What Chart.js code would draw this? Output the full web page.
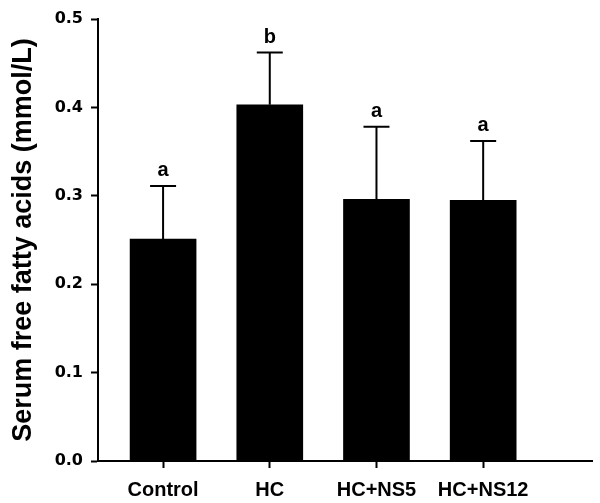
<!DOCTYPE html>
<html>
<head>
<meta charset="utf-8">
<script src="https://cdn.jsdelivr.net/npm/chart.js@4/dist/chart.umd.min.js"></script>
<style>
  html, body { margin: 0; padding: 0; background: #fff; }
  #wrap { width: 600px; height: 503px; position: relative; }
</style>
</head>
<body>
<div id="wrap"><canvas id="c" width="600" height="503"></canvas></div>
<script>
const categories = ['Control', 'HC', 'HC+NS5', 'HC+NS12'];
const means = [0.251, 0.403, 0.296, 0.295];
const errors = [0.060, 0.059, 0.082, 0.067];
const letters = ['a', 'b', 'a', 'a'];
const yTicks = [0.0, 0.1, 0.2, 0.3, 0.4, 0.5];

const FONT = "'Liberation Sans', Arial, Helvetica, sans-serif";
const TICKFONT = "'DejaVu Sans', 'Liberation Sans', Arial, sans-serif";

const errorBarPlugin = {
  id: 'errorBars',
  afterDatasetsDraw(chart) {
    const ctx = chart.ctx;
    const xs = chart.scales.x, ys = chart.scales.y;
    ctx.save();
    ctx.strokeStyle = '#000';
    ctx.lineWidth = 2;
    ctx.fillStyle = '#000';
    ctx.font = "bold 20px " + FONT;
    ctx.textAlign = 'center';
    ctx.textBaseline = 'alphabetic';
    categories.forEach((c, i) => {
      const x = xs.getPixelForValue(i + 1);
      const yb = ys.getPixelForValue(means[i]);
      const yt = ys.getPixelForValue(means[i] + errors[i]);
      ctx.beginPath();
      ctx.moveTo(x, yb);
      ctx.lineTo(x, yt);
      ctx.moveTo(x - 13, yt);
      ctx.lineTo(x + 13, yt);
      ctx.stroke();
      ctx.fillText(letters[i], x, yt - 10);
    });
    ctx.restore();
  }
};

new Chart(document.getElementById('c'), {
  type: 'bar',
  data: {
    datasets: [{
      data: categories.map((c, i) => ({ x: i + 1, y: means[i] })),
      backgroundColor: '#000',
      borderWidth: 0,
      barThickness: 66
    }]
  },
  options: {
    responsive: false,
    animation: false,
    devicePixelRatio: 1,
    layout: { padding: { top: 19, right: 8, left: 0, bottom: 0 } },
    plugins: { legend: { display: false }, tooltip: { enabled: false } },
    scales: {
      x: {
        type: 'linear',
        offset: false,
        min: 0.39,
        max: 5.02,
        afterBuildTicks: (s) => { s.ticks = categories.map((c, i) => ({ value: i + 1 })); },
        afterFit: (s) => { s.height = 42; },
        grid: { display: true, offset: false, drawOnChartArea: false, drawTicks: true, tickLength: 7, tickWidth: 2, tickColor: '#000' },
        border: { display: true, color: '#000', width: 2 },
        ticks: {
          autoSkip: false,
          maxRotation: 0,
          padding: 10,
          color: '#000',
          font: { family: FONT, size: 20, weight: 'bold' },
          callback: (v) => categories[Math.round(v) - 1] || ''
        }
      },
      y: {
        type: 'linear',
        min: 0,
        max: 0.5,
        afterBuildTicks: (s) => { s.ticks = yTicks.map(v => ({ value: v })); },
        afterFit: (s) => { s.width = 98; },
        grid: { display: true, drawOnChartArea: false, drawTicks: true, tickLength: 7, tickWidth: 2, tickColor: '#000' },
        border: { display: true, color: '#000', width: 2 },
        ticks: {
          padding: 8,
          color: '#000',
          font: { family: TICKFONT, size: 16, weight: 'bold' },
          callback: (v) => Number(v).toFixed(1)
        },
        title: {
          display: true,
          text: 'Serum free fatty acids (mmol/L)',
          color: '#000',
          font: { family: FONT, size: 27, weight: 'bold' },
          padding: { top: 7, bottom: 0 }
        }
      }
    }
  },
  plugins: [errorBarPlugin]
});
</script>
</body>
</html>
